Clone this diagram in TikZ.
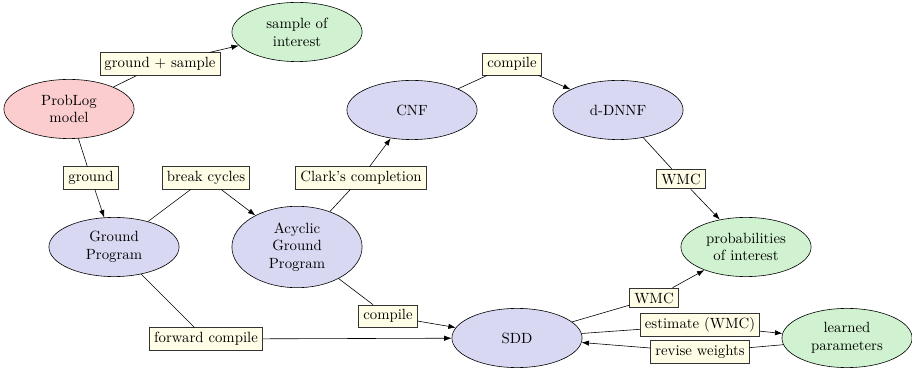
\documentclass[tikz,border=0pt]{standalone}
\usetikzlibrary{arrows.meta,shapes.geometric}
\definecolor{stateblue}{RGB}{216,216,242}
\definecolor{statered}{RGB}{252,205,207}
\definecolor{stategreen}{RGB}{208,242,208}
\definecolor{labelfill}{RGB}{255,253,230}
\begin{document}
\begin{tikzpicture}[x=0.676pt,y=-0.676pt,
  state/.style={ellipse,draw,minimum width=88pt,minimum height=40pt,align=center,inner sep=2pt},
  model/.style={state,fill=statered},
  repr/.style={state,fill=stateblue},
  result/.style={state,fill=stategreen},
  step label/.style={rectangle,draw=black!80,fill=labelfill,inner sep=3pt,semithick},
  link/.style={-{Latex[length=5pt,width=3.6pt]}}]
\useasboundingbox (0,0) rectangle (912,373);

% states
\node[model]  (PL)  at (69,109)  {ProbLog\\model};
\node[result] (SI)  at (297,32)  {sample of\\interest};
\node[repr]   (GP)  at (114,247) {Ground\\Program};
\node[repr,minimum height=55pt] (AGP) at (297,247) {Acyclic\\Ground\\Program};
\node[repr]   (CNF) at (412,110) {CNF};
\node[repr]   (DD)  at (618,110) {d-DNNF};
\node[result] (PI)  at (746,247) {probabilities\\of interest};
\node[repr]   (SDD) at (517,338) {SDD};
\node[result] (LP)  at (847,338) {learned\\parameters};

% transformations
\node[step label] (gs)   at (160,64)  {ground + sample};
\node[step label] (gr)   at (91,178)  {ground};
\node[step label] (bc)   at (206,178) {break cycles};
\node[step label] (cc)   at (361,178) {Clark's completion};
\node[step label] (cmp1) at (512,64)  {compile};
\node[step label] (wmc1) at (681,179) {WMC};
\node[step label] (fc)   at (206,339) {forward compile};
\node[step label] (cmp2) at (388,316) {compile};
\node[step label] (wmc2) at (654,298) {WMC};
\node[step label] (est)  at (700,325) {estimate (WMC)};
\node[step label] (rw)   at (700,352) {revise weights};

% connectors
\draw (PL) -- (gs);   \draw[link] (gs) -- (SI);
\draw (PL) -- (gr);   \draw[link] (gr) -- (GP);
\draw (GP) -- (bc);   \draw[link] (bc) -- (AGP);
\draw (AGP) -- (cc);  \draw[link] (cc) -- (CNF);
\draw (CNF) -- (cmp1);\draw[link] (cmp1) -- (DD);
\draw (DD) -- (wmc1); \draw[link] (wmc1) -- (PI);
\draw (GP) -- (fc);   \draw[link] (fc) -- (SDD);
\draw (AGP) -- (cmp2);\draw[link] (cmp2) -- (SDD);
\draw (SDD) -- (wmc2);\draw[link] (wmc2) -- (PI);
\draw (SDD.4) -- (est); \draw[link] (est) -- (LP.176);
\draw (LP.186) -- (rw); \draw[link] (rw) -- (SDD.356);
\end{tikzpicture}
\end{document}
